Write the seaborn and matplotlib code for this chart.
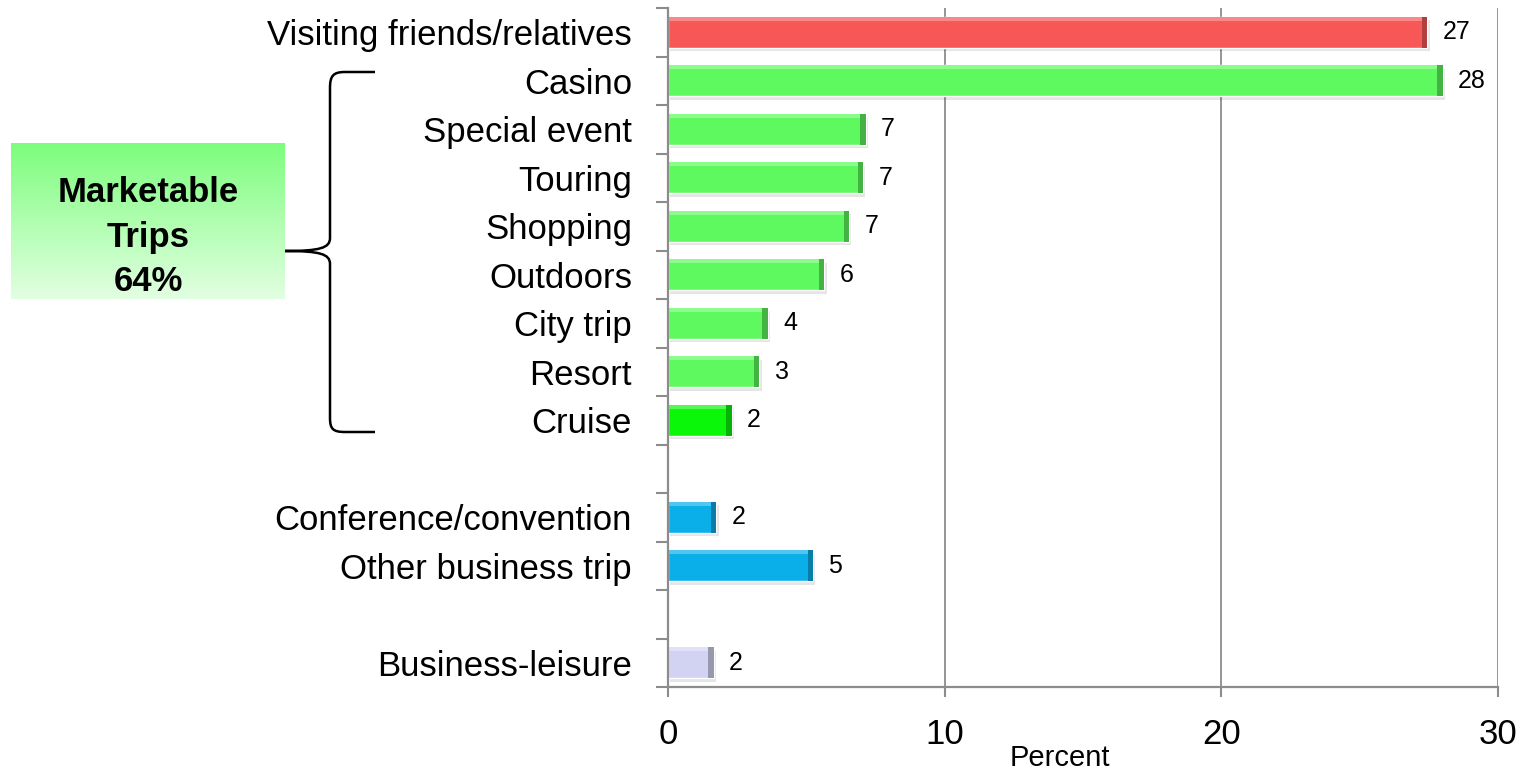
import numpy as np
import pandas as pd
import seaborn as sns
import matplotlib.pyplot as plt
from matplotlib.patches import Rectangle, PathPatch
from matplotlib.path import Path
from matplotlib.colors import to_rgb

# rows top to bottom; blank strings are the empty spacer rows
categories = ['Visiting friends/relatives', 'Casino', 'Special event', 'Touring',
              'Shopping', 'Outdoors', 'City trip', 'Resort', 'Cruise', ' ',
              'Conference/convention', 'Other business trip', '  ', 'Business-leisure']
values = [27.45, 28.0, 7.15, 7.05, 6.55, 5.65, 3.6, 3.3, 2.3, None,
          1.75, 5.25, None, 1.65]
bar_colors = ['#f75757', '#5ef95e', '#5ef95e', '#5ef95e', '#5ef95e', '#5ef95e',
              '#5ef95e', '#5ef95e', '#0af70a', '#ffffff', '#0aaee8', '#0aaee8',
              '#ffffff', '#d2d2f2']
x_ticks = [0, 10, 20, 30]
box_text = 'Marketable\nTrips\n64%'

W, H = 1528, 774
GRAY = '#8c8c8c'

sns.set_theme(style='white')
plt.rcParams['font.family'] = ['Liberation Sans', 'DejaVu Sans']
plt.rcParams['text.color'] = 'black'
plt.rcParams['axes.labelcolor'] = 'black'

df = pd.DataFrame({'category': categories, 'value': values}).dropna()
palette = dict(zip(categories, bar_colors))

fig = plt.figure(figsize=(W / 100, H / 100), dpi=100)
ax = fig.add_axes([668 / W, 1 - 687 / H, 830 / W, 679 / H])

sns.barplot(data=df, x='value', y='category', hue='category', order=categories,
            palette=palette, width=0.64, legend=False, orient='h', ax=ax,
            saturation=1, errorbar=None)

for cont in ax.containers:
    ax.bar_label(cont, fmt='%.0f', padding=11, fontsize=18, color='black')

# fake bevel: darker right cap + light top strip + soft shadow below
for p in list(ax.patches):
    x0, y0 = p.get_x(), p.get_y()
    w, h = p.get_width(), p.get_height()
    if not np.isfinite(w) or w <= 0:
        continue
    c = np.array(to_rgb(p.get_facecolor()))
    dark = c * 0.72
    light = c + (1 - c) * 0.3
    ax.add_patch(Rectangle((x0 + 0.08, y0 + 0.07), w, h, color='#000000', alpha=0.10,
                           zorder=p.get_zorder() - 0.1, lw=0))
    ax.add_patch(Rectangle((x0, y0), w, h * 0.13, color=light, zorder=p.get_zorder() + 0.1, lw=0))
    ax.add_patch(Rectangle((x0 + w - 0.2, y0), 0.2, h, color=dark, zorder=p.get_zorder() + 0.2, lw=0))

ax.set_xlim(0, 30)
ax.set_ylim(len(categories) - 0.5, -0.5)
ax.set_xticks(x_ticks)
ax.set_xticklabels([str(t) for t in x_ticks], fontsize=25)
ax.set_yticks(range(len(categories)))
ax.set_yticklabels(categories, fontsize=25)
ax.set_yticks(np.arange(-0.5, len(categories)), minor=True)
ax.tick_params(axis='y', which='major', length=0, pad=26, labelcolor='black')
ax.tick_params(axis='y', which='minor', length=9, width=1.5, color=GRAY, left=True)
ax.tick_params(axis='x', length=7.5, width=1.5, color=GRAY, bottom=True, pad=15,
               labelcolor='black')
ax.grid(axis='x', color=GRAY, lw=1.3)
ax.grid(axis='y', visible=False)
ax.set_axisbelow(True)
for s in ['top', 'right']:
    ax.spines[s].set_visible(False)
for s in ['left', 'bottom']:
    ax.spines[s].set_color(GRAY)
    ax.spines[s].set_linewidth(1.6)
ax.set_ylabel('')
ax.set_xlabel('Percent', fontsize=21, color='black')
ax.xaxis.set_label_coords(0.472, -0.084)

# green gradient box on the left
bx = fig.add_axes([11 / W, 1 - 299 / H, 274 / W, 156 / H])
top_c = np.array(to_rgb('#7dfd7d'))
bot_c = np.array(to_rgb('#e2ffe2'))
t = np.linspace(0, 1, 100)[:, None, None]
grad = top_c * (1 - t) + bot_c * t
bx.imshow(np.repeat(grad, 2, axis=1), aspect='auto', extent=[0, 1, 0, 1])
bx.set_axis_off()
fig.text(148 / W, 1 - 237 / H, box_text, ha='center', va='center', fontsize=25,
         fontweight='bold', linespacing=1.45, color='black')


# curly brace, in pixel coordinates
def fp(x, y):
    return (x / W, 1 - y / H)


verts = [(375, 72), (345, 72), (333, 72), (330, 76), (330, 88), (330, 238),
         (330, 248), (320, 251), (285, 251), (320, 251), (330, 254), (330, 264),
         (330, 418), (330, 429), (333, 432), (345, 432), (375, 432)]
codes = [Path.MOVETO, Path.LINETO, Path.CURVE4, Path.CURVE4, Path.CURVE4, Path.LINETO,
         Path.CURVE4, Path.CURVE4, Path.CURVE4, Path.CURVE4, Path.CURVE4, Path.CURVE4,
         Path.LINETO, Path.CURVE4, Path.CURVE4, Path.CURVE4, Path.LINETO]
brace = Path([fp(*v) for v in verts], codes)
fig.patches.append(PathPatch(brace, fill=False, lw=1.8, color='black',
                             transform=fig.transFigure, figure=fig))

fig.savefig('out.png', dpi=100)
